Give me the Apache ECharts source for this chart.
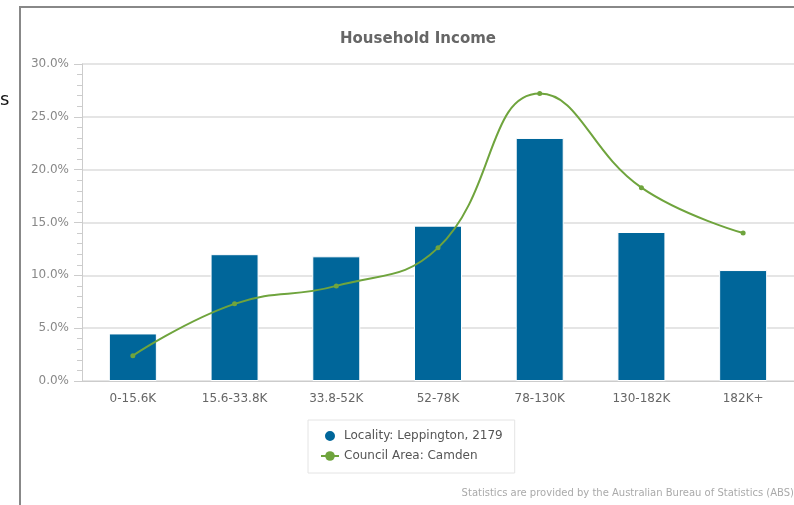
<!DOCTYPE html>
<html><head><meta charset="utf-8">
<script src="https://cdn.jsdelivr.net/npm/echarts@6/dist/echarts.min.js"></script>
<style>html,body{margin:0;padding:0;background:#fff}#c{width:794px;height:505px}</style>
</head><body><div id="c"></div>
<script>
const categories = ['0-15.6K','15.6-33.8K','33.8-52K','52-78K','78-130K','130-182K','182K+'];
const localityValues = [4.5, 12.0, 11.8, 14.7, 23.0, 14.1, 10.5];
const councilValues = [2.4, 7.3, 9.0, 12.6, 27.2, 18.3, 14.0];
const localityName = 'Locality: Leppington, 2179';
const councilName = 'Council Area: Camden';
const titleText = 'Household Income';
const creditText = 'Statistics are provided by the Australian Bureau of Statistics (ABS)';

const chart = echarts.init(document.getElementById('c'));
const FONT = 'DejaVu Sans';
chart.setOption({
  animation: false,
  textStyle: {fontFamily: FONT},
  title: {text: titleText, left: 413, textAlign: 'center', top: 27,
    textStyle: {fontSize: 15, fontWeight: 'bold', color: '#666', fontFamily: FONT}},
  grid: {left: 82, right: 0, top: 64, bottom: 124},
  legend: {
    left: 308, top: 420, width: 210, orient: 'vertical',
    padding: [9, 12, 11, 12], itemGap: 7, itemWidth: 18, itemHeight: 12,
    borderColor: '#e4e4e4', borderWidth: 1,
    textStyle: {fontSize: 12, color: '#555', fontFamily: FONT},
    data: [{name: localityName, icon: 'circle'}, {name: councilName}]
  },
  xAxis: {
    type: 'category', data: categories,
    axisLine: {lineStyle: {color: '#ccc'}},
    axisTick: {length: 12, lineStyle: {color: '#ccc'}},
    axisLabel: {fontSize: 12, color: '#666', margin: 12, fontFamily: FONT}
  },
  yAxis: {
    type: 'value', min: 0, max: 30, interval: 5,
    axisLine: {show: true, lineStyle: {color: '#ccc'}},
    axisTick: {show: true, length: 8, lineStyle: {color: '#ccc'}},
    minorTick: {show: true, splitNumber: 5, length: 5, lineStyle: {color: '#ccc'}},
    splitLine: {lineStyle: {color: '#ddd', width: 1.5}},
    axisLabel: {fontSize: 12, color: '#888', margin: 13, fontFamily: FONT,
      formatter: v => v.toFixed(1) + '%'}
  },
  series: [
    {name: localityName, type: 'bar', data: localityValues, barWidth: 48,
      itemStyle: {color: '#00669a', borderColor: '#ffffff', borderWidth: 1}},
    {name: councilName, type: 'line', data: councilValues, smooth: 0.45,
      symbol: 'circle', symbolSize: 5,
      lineStyle: {color: '#6fa43d', width: 2},
      itemStyle: {color: '#6fa43d'}}
  ],
  graphic: [
    {type: 'polyline', shape: {points: [[20, 505], [20, 7], [794, 7]]},
      style: {stroke: '#888', lineWidth: 2, fill: null}},
    {type: 'text', left: 0, top: 91, style: {text: 's', fontSize: 18, fill: '#111', fontFamily: FONT}},
    {type: 'text', right: 0, top: 488, style: {text: creditText, fontSize: 10, fill: '#aaa', fontFamily: FONT}}
  ]
});
</script></body></html>
